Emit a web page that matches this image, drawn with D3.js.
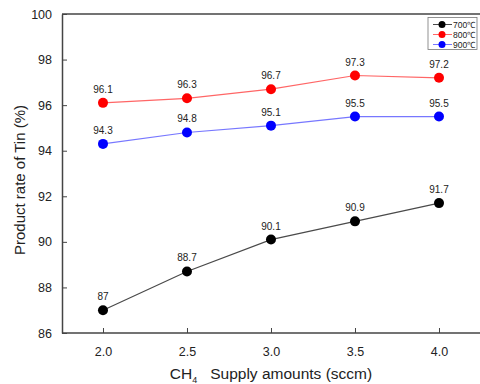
<!DOCTYPE html>
<html><head><meta charset="utf-8">
<script src="https://cdn.jsdelivr.net/npm/d3@7"></script>
<style>body{margin:0;background:#fff}svg{display:block;font-family:Arial,"Liberation Sans",sans-serif}</style>
</head><body><svg id="c" width="480" height="384"></svg>
<script>
const categories = [2.0, 2.5, 3.0, 3.5, 4.0];
const s700 = [87, 88.7, 90.1, 90.9, 91.7];
const s800 = [96.1, 96.3, 96.7, 97.3, 97.2];
const s900 = [94.3, 94.8, 95.1, 95.5, 95.5];
const labels700 = ["87", "88.7", "90.1", "90.9", "91.7"];
const labels800 = ["96.1", "96.3", "96.7", "97.3", "97.2"];
const labels900 = ["94.3", "94.8", "95.1", "95.5", "95.5"];
const seriesNames = ["700℃", "800℃", "900℃"];
const yTicks = [86, 88, 90, 92, 94, 96, 98, 100];

const series = [
  {name: seriesNames[0], values: s700, labels: labels700, color: "#000", line: "#4a4a4a"},
  {name: seriesNames[1], values: s800, labels: labels800, color: "#f00", line: "#f66"},
  {name: seriesNames[2], values: s900, labels: labels900, color: "#00f", line: "#77f"}
];

const svg = d3.select("#c");
const x = d3.scaleLinear().domain([1.756, 4.25]).range([62, 481]);
const y = d3.scaleLinear().domain([86, 100]).range([333, 14]);
const axisColor = "#444";

// top border
svg.append("line").attr("x1", 62).attr("x2", 480).attr("y1", y(100)).attr("y2", y(100))
  .attr("stroke", axisColor).attr("stroke-width", 1.5);

const yAxis = svg.append("g").attr("transform", "translate(62,0)")
  .call(d3.axisLeft(y).tickValues(yTicks).tickSizeInner(-5).tickSizeOuter(0).tickPadding(10).tickFormat(d3.format("d")));
const xAxis = svg.append("g").attr("transform", `translate(0,${y(86)})`)
  .call(d3.axisBottom(x).tickValues(categories).tickSizeInner(-5).tickSizeOuter(0).tickPadding(14).tickFormat(d3.format(".1f")));
[yAxis, xAxis].forEach(a => {
  a.select(".domain").attr("stroke", axisColor).attr("stroke-width", 1.5);
  a.selectAll(".tick line").attr("stroke", axisColor).attr("stroke-width", 1);
  a.selectAll("text").attr("fill", "#222").style("font-size", "12.5px").style("font-family", "Arial, 'Liberation Sans', sans-serif");
});
xAxis.select(".domain").attr("d", "M62,0H480");

const line = d3.line().x((d, i) => x(categories[i])).y(d => y(d));
series.forEach(s => {
  svg.append("path").datum(s.values).attr("d", line).attr("fill", "none")
    .attr("stroke", s.line).attr("stroke-width", 1.2);
  svg.selectAll(null).data(s.values).enter().append("circle")
    .attr("cx", (d, i) => x(categories[i])).attr("cy", d => y(d)).attr("r", 5).attr("fill", s.color);
  svg.selectAll(null).data(s.values).enter().append("text")
    .attr("x", (d, i) => x(categories[i])).attr("y", d => y(d) - 10)
    .attr("text-anchor", "middle").attr("fill", "#222").style("font-size", "10px")
    .text((d, i) => s.labels[i]);
});

// axis titles
svg.append("text").attr("transform", "translate(25,180) rotate(-90)").attr("text-anchor", "middle")
  .attr("fill", "#222").style("font-size", "15px").text("Product rate of Tin (%)");
const xt = svg.append("text").attr("x", 271).attr("y", 379).attr("text-anchor", "middle")
  .attr("fill", "#222").style("font-size", "15.5px");
xt.append("tspan").text("CH");
xt.append("tspan").attr("dy", 4).style("font-size", "9px").text("4");
xt.append("tspan").attr("dy", -4).text("\u00a0\u00a0 Supply amounts (sccm)");

// legend
const lg = svg.append("g");
lg.append("rect").attr("x", 428).attr("y", 17.5).attr("width", 49).attr("height", 32)
  .attr("fill", "#fff").attr("stroke", "#777").attr("stroke-width", 0.8);
series.forEach((s, i) => {
  const yy = 24.5 + i * 10;
  lg.append("line").attr("x1", 433).attr("x2", 452).attr("y1", yy).attr("y2", yy).attr("stroke", s.line).attr("stroke-width", 1);
  lg.append("circle").attr("cx", 442).attr("cy", yy).attr("r", 3.5).attr("fill", s.color);
  lg.append("text").attr("x", 453).attr("y", yy + 3).attr("fill", "#222").style("font-size", "8.5px").text(s.name);
});
</script></body></html>
